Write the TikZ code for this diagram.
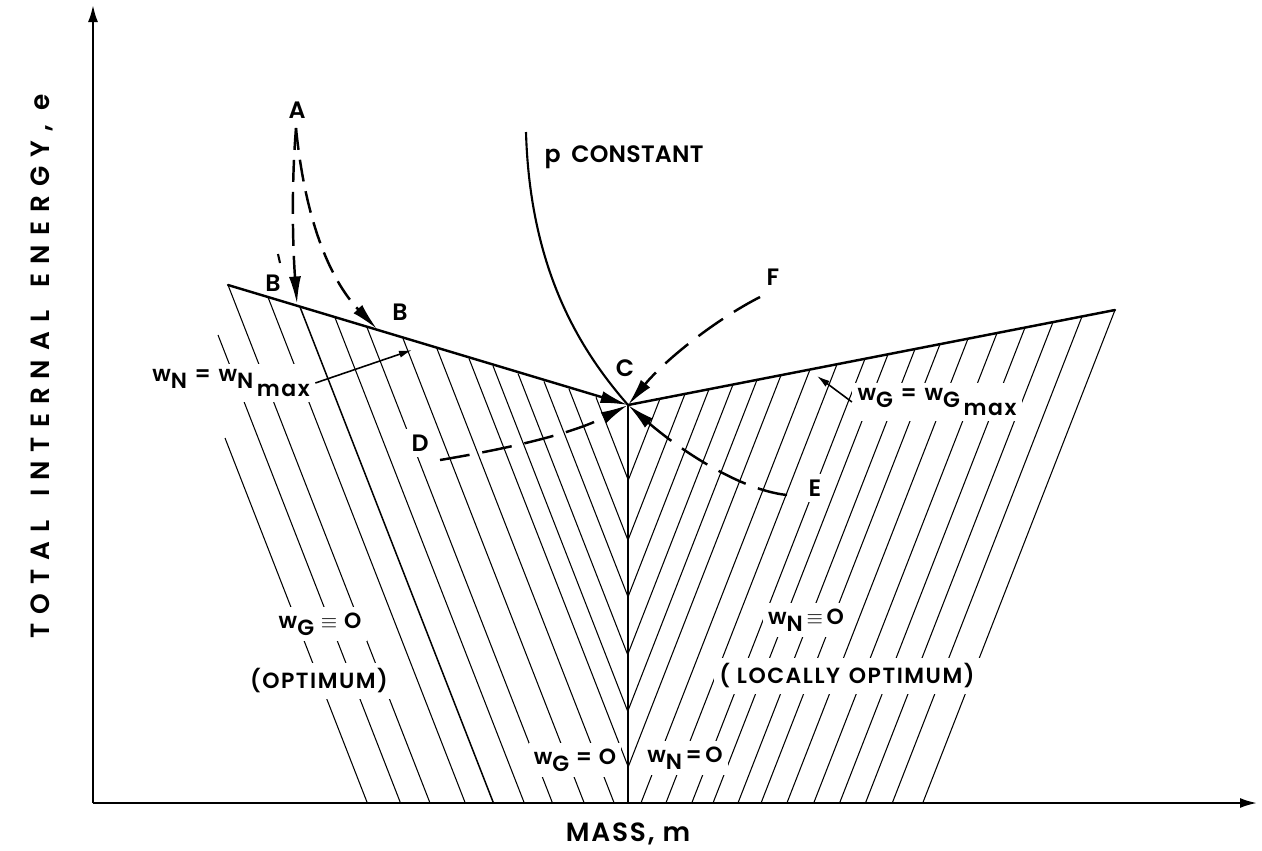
\documentclass[tikz,border=0pt]{standalone}
\usepackage{fontspec}
\setmainfont{Poppins}[LetterSpace=7, UprightFont={Poppins SemiBold}]
\newfontfamily\axisfont{Poppins}[LetterSpace=34, UprightFont={Poppins SemiBold}]
\usepackage{tikz}
\usetikzlibrary{arrows.meta, calc}

\newcommand{\wsub}[1]{w\raisebox{-0.6ex}{#1}}
\newcommand{\wmax}[1]{w\raisebox{-0.6ex}{#1}\raisebox{-1.2ex}{\,max}}

\begin{document}
\begin{tikzpicture}[
  x=0.02cm, y=-0.02cm,
  bnd/.style={line width=1.4pt, line cap=round},
  hatch/.style={line width=0.6pt},
  axis/.style={line width=1.2pt, -{Latex[length=3.4mm,width=2mm]}},
  traj/.style={line width=1.4pt, dash pattern=on 6mm off 2.6mm, -{Latex[length=5.5mm,width=2.4mm]}},
  trajA/.style={line width=1.4pt, dash pattern=on 4.4mm off 2mm, -{Latex[length=5.5mm,width=2.4mm]}},
  pointer/.style={line width=0.9pt, -{Latex[length=2.6mm,width=1.4mm]}},
  lbl/.style={fill=white, inner sep=3pt, font=\fontsize{12.5}{15}\selectfont},
  ltr/.style={fill=white, inner sep=3pt, font=\fontsize{13.5}{16}\selectfont},
  ttl/.style={inner sep=2pt, font=\fontsize{15}{18}\selectfont},
]
  \useasboundingbox (0,0) rectangle (1262,850);

  % Corners of the two regions
  \coordinate (O)  at (93,803);
  \coordinate (C)  at (628,405);
  \coordinate (Nl) at (228,285);
  \coordinate (Gr) at (1115,310);
  \coordinate (Cb) at (628,803);

  % Hatching, w_G = 0 side
  \begin{scope}
    \clip (0,0) rectangle (628,803);
    \foreach \xt in {228,268,335,367,403,437,469,493,518,544,569,596}
      \draw[hatch] (\xt,{285+0.305*(\xt-228)}) -- ++(273,700);
    \draw[hatch, line width=0.85pt] (300,{285+0.305*72}) -- ++(273,700);
    \draw[hatch] (218,335) -- ++(273,700);
    \draw[hatch] (225,438) -- ++(273,700);
  \end{scope}

  % Hatching, w_N = 0 side
  \begin{scope}
    \clip (628,0) rectangle (1262,803);
    \foreach \xt in {660,685,709,733,757,781,810,837,865,888,915,940,968,997,1025,1053,1082,1115}
      \draw[hatch] (\xt,{405-0.195*(\xt-628)}) -- ++(-273,700);
  \end{scope}

  % Region labels
  \node[lbl] (wn)  at (231,383) {\wsub{N}\hspace{0.35em}=\hspace{0.35em}\wmax{N}};
  \node[lbl] (wg)  at (937,402) {\wsub{G}\hspace{0.35em}=\hspace{0.35em}\wmax{G}};
  \node[lbl] (wgz) at (320,624) {\wsub{G} \(\equiv\) O};
  \node[lbl] (opt) at (319,681) {(OPTIMUM)};
  \node[lbl] (wnz) at (806,620) {\wsub{N}\,\(\equiv\)\,O};
  \node[lbl] (lopt) at (847,676) {( LOCALLY\hspace{0.4em}OPTIMUM)};
  \node[lbl] (wg0) at (575,760) {\wsub{G} = O};
  \node[lbl] (wn0) at (685,758) {\wsub{N}\,=\,O};

  % Point labels
  \node[ltr] (A)  at (297,110) {A};
  \node[ltr] (B1) at (273,283) {B};
  \node[ltr] (B2) at (400,312) {B};
  \node[ltr] (Cl) at (625,368) {C};
  \node[ltr] (D)  at (420,443) {D};
  \node[ltr] (E)  at (815,488) {E};
  \node[ltr] (F)  at (773,277) {F};
  \node[ltr, anchor=west] (pc) at (539,157) {\addfontfeatures{LetterSpace=1}p\hspace{0.45em}CONSTANT};

  % Axes
  \coordinate (Yt) at (93,5);
  \coordinate (Xt) at (1257,803);
  \draw[axis] (O) -- (Yt);
  \draw[axis] (O) -- (Xt);
  \node[ttl] (xl) at (628,834) {MASS, m};
  \node[ttl, rotate=90] (yl) at (42,366) {\axisfont TOTAL\hspace{0.9em}INTERNAL\hspace{0.9em}ENERGY, e};

  % Boundaries
  \draw[bnd, -{Latex[length=5.5mm,width=2.4mm]}] (Nl) -- (C);
  \draw[bnd] (C) -- (Gr);
  \draw[line width=1.2pt] (C) -- (Cb);

  % p constant curve
  \coordinate (Po) at (526,132);
  \draw[line width=1.2pt] (Po) .. controls (530,270) and (580,350) .. (C);

  % Paths from A onto the w_N max boundary
  \coordinate (Ao)  at (296,128);
  \coordinate (Ba)  at (297,304);
  \coordinate (Bb)  at (377,329);
  \draw[trajA] (Ao) .. controls (291,190) and (293,250) .. (Ba);
  \draw[trajA] (Ao) .. controls (305,220) and (330,280) .. (Bb);
  \draw[line width=1.2pt] (278,254) -- (280,263);

  % Paths into C
  \coordinate (Do) at (440,460);
  \coordinate (Eo) at (787,495);
  \coordinate (Fo) at (760,297);
  \draw[traj] (Do) .. controls (500,450) and (570,435) .. (C);
  \draw[traj] (Eo) .. controls (740,490) and (680,450) .. (C);
  \draw[traj] (Fo) .. controls (715,320) and (665,360) .. (C);

  % Pointers to the two boundaries
  \coordinate (wnT) at (412,350);
  \coordinate (wgT) at (817,376);
  \draw[pointer] (wn.east) -- (wnT);
  \draw[pointer] (wg.west) -- (wgT);

\end{tikzpicture}
\end{document}
